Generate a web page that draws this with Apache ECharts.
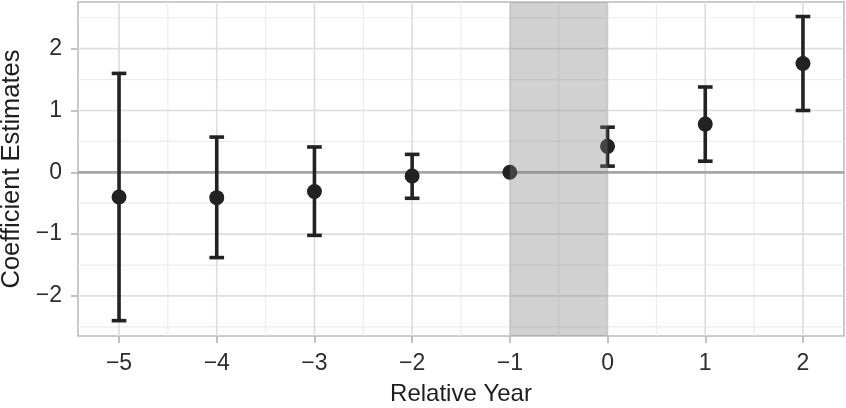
<!DOCTYPE html>
<html>
<head>
<meta charset="utf-8">
<script src="https://cdn.jsdelivr.net/npm/echarts@6/dist/echarts.min.js"></script>
<style>
html,body{margin:0;padding:0;background:#fff;}
#chart{width:846px;height:408px;}
</style>
</head>
<body>
<div id="chart"></div>
<script>
// ---- data ----
const years     = [-5, -4, -3, -2, -1, 0, 1, 2];
const estimates = [-0.40, -0.41, -0.31, -0.06, 0, 0.42, 0.78, 1.76];
const lowerCI   = [-2.40, -1.38, -1.02, -0.42, null, 0.10, 0.18, 1.00];
const upperCI   = [ 1.60,  0.57,  0.41,  0.29, null, 0.73, 1.38, 2.52];
const xTicks    = [-5, -4, -3, -2, -1, 0, 1, 2];
const xMinor    = [-4.5, -3.5, -2.5, -1.5, -0.5, 0.5, 1.5];
const yTicks    = [-2, -1, 0, 1, 2];
const yMinor    = [-2.5, -1.5, -0.5, 0.5, 1.5, 2.5];
const shadeRange = [-1, 0];

// ---- helpers ----
const FONT = '"Liberation Sans", Arial, Helvetica, sans-serif';
const fmt = v => (v < 0 ? '\u2212' + Math.abs(v) : String(v));
const X_MIN = -5.42, X_MAX = 2.42, Y_MIN = -2.648, Y_MAX = 2.755;

function vLines(values, color, width, z) {
  return {
    type: 'custom', z: z, silent: true,
    data: values.map(v => [v, 0]),
    encode: { x: 0, y: 1 },
    renderItem(params, api) {
      const cs = params.coordSys;
      const p = api.coord([api.value(0), 0]);
      return { type: 'line', shape: { x1: p[0], y1: cs.y, x2: p[0], y2: cs.y + cs.height },
               style: { stroke: color, lineWidth: width } };
    }
  };
}
function hLines(values, color, width, z) {
  return {
    type: 'custom', z: z, silent: true,
    data: values.map(v => [0, v]),
    encode: { x: 0, y: 1 },
    renderItem(params, api) {
      const cs = params.coordSys;
      const p = api.coord([0, api.value(1)]);
      return { type: 'line', shape: { x1: cs.x, y1: p[1], x2: cs.x + cs.width, y2: p[1] },
               style: { stroke: color, lineWidth: width } };
    }
  };
}

const errData = years.map((y, i) => [y, lowerCI[i], upperCI[i]]).filter(d => d[1] != null);
const ptData = years.map((y, i) => [y, estimates[i]]);

const chart = echarts.init(document.getElementById('chart'), null, { renderer: 'canvas' });
chart.setOption({
  animation: false,
  backgroundColor: '#ffffff',
  grid: { left: 78, right: 2, top: 2, bottom: 72, containLabel: false, outerBoundsMode: 'none',
          show: true, borderColor: '#bcbcbc', borderWidth: 1.6, backgroundColor: 'transparent' },
  xAxis: {
    type: 'value', min: X_MIN, max: X_MAX,
    name: 'Relative Year', nameLocation: 'middle', nameGap: 46,
    nameTextStyle: { fontFamily: FONT, fontSize: 24, color: '#1e1e1e' },
    axisLine: { show: false, onZero: false },
    axisTick: { show: true, customValues: xTicks, length: 7, lineStyle: { color: '#b3b3b3', width: 1.6 } },
    axisLabel: { customValues: xTicks, formatter: fmt, margin: 16, fontFamily: FONT, fontSize: 23, color: '#2e2e2e' },
    splitLine: { show: false }
  },
  yAxis: {
    type: 'value', min: Y_MIN, max: Y_MAX,
    name: 'Coefficient Estimates', nameLocation: 'middle', nameGap: 48,
    nameTextStyle: { fontFamily: FONT, fontSize: 25.5, color: '#1e1e1e' },
    axisLine: { show: false, onZero: false },
    axisTick: { show: true, customValues: yTicks, length: 7, lineStyle: { color: '#b3b3b3', width: 1.6 } },
    axisLabel: { customValues: yTicks, formatter: fmt, margin: 16, fontFamily: FONT, fontSize: 23, color: '#2e2e2e' },
    splitLine: { show: false }
  },
  series: [
    vLines(xMinor, '#ececec', 1.2, 0),
    hLines(yMinor, '#ececec', 1.2, 0),
    vLines(xTicks, '#dedede', 1.7, 0),
    hLines(yTicks, '#dedede', 1.7, 0),
    hLines([0], '#a6a6a6', 2.8, 1),
    {
      type: 'custom', z: 3, silent: true,
      data: errData,
      encode: { x: 0, y: [1, 2] },
      renderItem(params, api) {
        const x = api.value(0), lo = api.value(1), hi = api.value(2);
        const pLo = api.coord([x, lo]);
        const pHi = api.coord([x, hi]);
        const hw = (api.coord([x + 0.075, lo])[0] - pLo[0]);
        const st = { stroke: '#222222', lineWidth: 3.6 };
        return { type: 'group', children: [
          { type: 'line', shape: { x1: pLo[0], y1: pLo[1], x2: pHi[0], y2: pHi[1] }, style: st },
          { type: 'line', shape: { x1: pLo[0] - hw, y1: pLo[1], x2: pLo[0] + hw, y2: pLo[1] }, style: st },
          { type: 'line', shape: { x1: pHi[0] - hw, y1: pHi[1], x2: pHi[0] + hw, y2: pHi[1] }, style: st }
        ]};
      }
    },
    {
      type: 'scatter', z: 4, silent: true,
      data: ptData, symbol: 'circle', symbolSize: 15,
      itemStyle: { color: '#222222', opacity: 1 }
    },
    {
      type: 'custom', z: 10, silent: true,
      data: [shadeRange],
      encode: { x: [0, 1] },
      renderItem(params, api) {
        const cs = params.coordSys;
        const a = api.coord([api.value(0), 0]);
        const b = api.coord([api.value(1), 0]);
        return { type: 'rect', shape: { x: a[0], y: cs.y, width: b[0] - a[0], height: cs.height },
                 style: { fill: 'rgba(128,128,128,0.36)' } };
      }
    }
  ]
});
</script>
</body>
</html>
